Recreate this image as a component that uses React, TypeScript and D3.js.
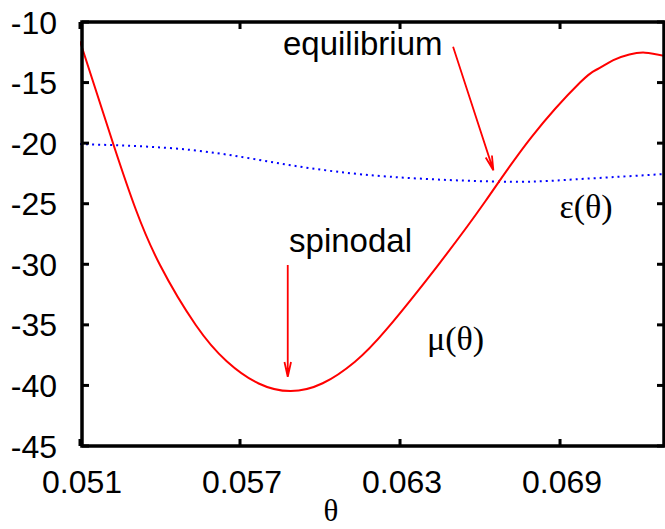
import { useEffect, useRef } from "react";
import * as d3 from "d3";

// mu(theta) — red solid curve
const muTheta = [0.051, 0.05226, 0.0531, 0.054, 0.05534, 0.0565, 0.0577, 0.0589, 0.0601, 0.0613, 0.0625, 0.06443, 0.0662, 0.06793, 0.06975, 0.0704, 0.071, 0.0716, 0.07219, 0.07294];
const muValue = [-11.6, -20.15, -25.52, -30.06, -35.01, -38.0, -39.84, -40.46, -39.82, -38.06, -35.35, -30.06, -24.8, -19.5, -15.0, -13.9, -13.15, -12.68, -12.53, -12.8];

// epsilon(theta) — blue dotted curve
const epsTheta = [0.051, 0.0552, 0.05884, 0.06261, 0.06681, 0.06919, 0.07294];
const epsValue = [-20.08, -20.57, -21.8, -22.77, -23.18, -23.04, -22.55];

const xTicks = [0.051, 0.057, 0.063, 0.069];
const yTicks = [-10, -15, -20, -25, -30, -35, -40, -45];

const App = () => {
  const svgRef = useRef<SVGSVGElement>(null);

  useEffect(() => {
    if (!svgRef.current) return;
    const svg = d3.select(svgRef.current);
    svg.selectAll("*").remove();

    const width = 665;
    const height = 529;
    const x = d3.scaleLinear().domain([0.051, 0.073]).range([80, 666.7]);
    const y = d3.scaleLinear().domain([-45, -10]).range([446, 22]);

    svg.attr("width", width).attr("height", height).style("background", "#fff");

    const defs = svg.append("defs");
    defs.append("clipPath").attr("id", "plotClip")
      .append("rect").attr("x", 80).attr("y", 22).attr("width", 587).attr("height", 424);

    const line = d3.line<[number, number]>()
      .x((d) => x(d[0]))
      .y((d) => y(d[1]))
      .curve(d3.curveNatural);

    const muPts = muTheta.map((t, i) => [t, muValue[i]] as [number, number]);
    const epsPts = epsTheta.map((t, i) => [t, epsValue[i]] as [number, number]);

    const plot = svg.append("g").attr("clip-path", "url(#plotClip)");

    plot.append("path")
      .attr("d", line(epsPts))
      .attr("fill", "none")
      .attr("stroke", "#0000ff")
      .attr("stroke-width", 2)
      .attr("stroke-dasharray", "2,4");

    plot.append("path")
      .attr("d", line(muPts))
      .attr("fill", "none")
      .attr("stroke", "#ff0000")
      .attr("stroke-width", 2);

    // arrows (open gnuplot style heads)
    const arrow = (x0: number, y0: number, x1: number, y1: number) => {
      const sx = x(x0), sy = y(y0), tx = x(x1), ty = y(y1);
      const ang = Math.atan2(ty - sy, tx - sx);
      const len = 15, spread = 0.22;
      const h1 = [tx - len * Math.cos(ang - spread), ty - len * Math.sin(ang - spread)];
      const h2 = [tx - len * Math.cos(ang + spread), ty - len * Math.sin(ang + spread)];
      svg.append("path")
        .attr("d", `M${sx},${sy}L${tx},${ty}M${h1[0]},${h1[1]}L${tx},${ty}L${h2[0]},${h2[1]}`)
        .attr("fill", "none")
        .attr("stroke", "#ff0000")
        .attr("stroke-width", 1.8);
    };
    arrow(0.06499, -12.04, 0.0665, -22.25);
    arrow(0.05879, -30.06, 0.05879, -39.28);

    // frame
    svg.append("rect")
      .attr("x", 82).attr("y", 22).attr("width", 582).attr("height", 424)
      .attr("fill", "none").attr("stroke", "#000").attr("stroke-width", 3.5);

    const tickLen = 7;
    yTicks.forEach((v) => {
      svg.append("line").attr("x1", 82).attr("x2", 82 + tickLen).attr("y1", y(v)).attr("y2", y(v))
        .attr("stroke", "#000").attr("stroke-width", 3);
      svg.append("line").attr("x1", 664).attr("x2", 664 - tickLen).attr("y1", y(v)).attr("y2", y(v))
        .attr("stroke", "#000").attr("stroke-width", 3);
      svg.append("text")
        .attr("x", 57).attr("y", y(v) + 11.5)
        .attr("text-anchor", "end")
        .attr("font-family", "Liberation Sans, Arial, sans-serif")
        .attr("font-size", 32)
        .attr("fill", "#000")
        .text(String(v));
    });
    xTicks.forEach((v) => {
      svg.append("line").attr("x1", x(v)).attr("x2", x(v)).attr("y1", 446).attr("y2", 446 - tickLen)
        .attr("stroke", "#000").attr("stroke-width", 3);
      svg.append("line").attr("x1", x(v)).attr("x2", x(v)).attr("y1", 22).attr("y2", 22 + tickLen)
        .attr("stroke", "#000").attr("stroke-width", 3);
      svg.append("text")
        .attr("x", x(v) + 2).attr("y", 493)
        .attr("text-anchor", "middle")
        .attr("font-family", "Liberation Sans, Arial, sans-serif")
        .attr("font-size", 32)
        .attr("fill", "#000")
        .text(v.toFixed(3));
    });

    // axis label
    svg.append("text")
      .attr("x", 331).attr("y", 521)
      .attr("text-anchor", "middle")
      .attr("font-family", "Liberation Serif, Times New Roman, serif")
      .attr("font-size", 31)
      .text("θ");

    const label = (t: string, tx: number, ty: number, serif: boolean) => {
      svg.append("text")
        .attr("x", x(tx)).attr("y", y(ty))
        .attr("font-family", serif ? "Liberation Serif, Times New Roman, serif" : "Liberation Sans, Arial, sans-serif")
        .attr("font-size", serif ? 34 : 33)
        .attr("fill", "#000")
        .text(t);
    };
    label("equilibrium", 0.05861, -12.72, false);
    label("spinodal", 0.05884, -28.96, false);
    label("ε(θ)", 0.06898, -26.18, true);
    label("μ(θ)", 0.06401, -37.08, true);
  }, []);

  return <svg ref={svgRef} style={{ position: "absolute", left: 0, top: 0, display: "block" }} />;
};

export default App;
